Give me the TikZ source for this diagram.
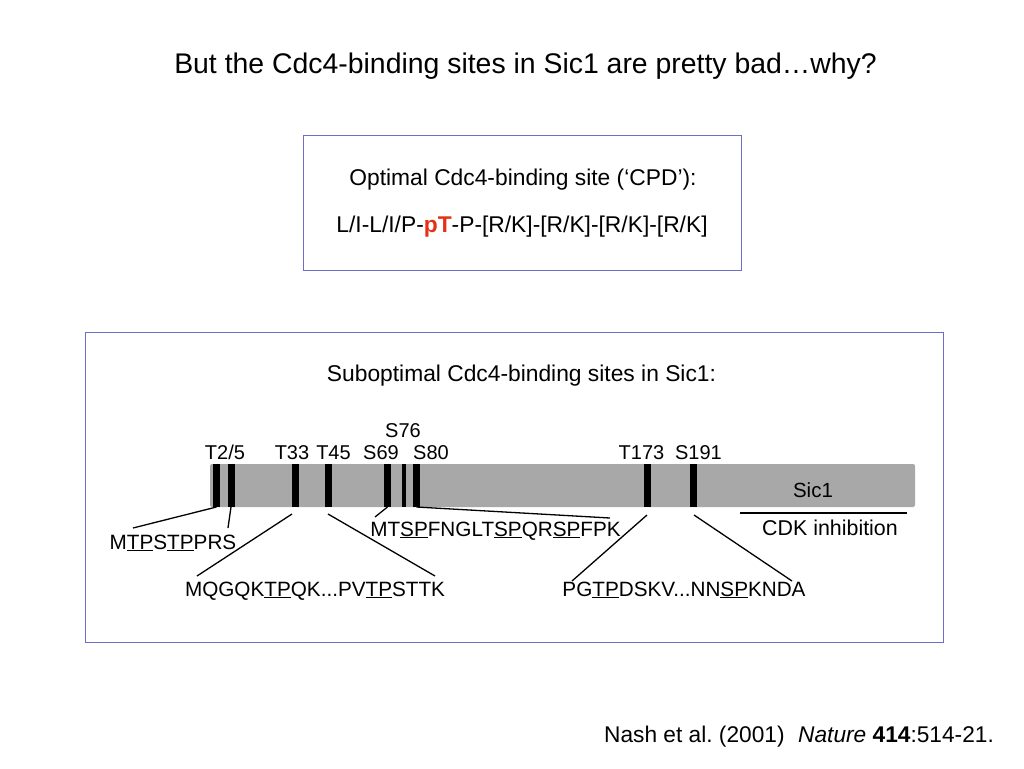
\documentclass[tikz,border=0pt]{standalone}
\usepackage{fontspec}
\setmainfont{Liberation Sans}
\definecolor{boxblue}{RGB}{110,110,200}
\definecolor{bargray}{RGB}{168,168,168}
\definecolor{pTred}{RGB}{230,50,20}
\newcommand{\usl}[1]{\underline{#1}}
\frenchspacing
\begin{document}
\begin{tikzpicture}[x=1pt,y=-1pt,
  every node/.style={inner sep=0pt, outer sep=0pt},
  frame/.style={draw=boxblue, line width=0.9pt, anchor=north west},
  stripe/.style={fill=black, minimum width=7pt, minimum height=43pt},
  site/.style={anchor=base, font=\fontsize{20}{23}\selectfont},
  seq/.style={anchor=base, font=\fontsize{20.7}{24}\selectfont},
  conn/.style={draw=black, line width=1.3pt},
  txt/.style={anchor=base, font=\fontsize{22.8}{26}\selectfont}]
\useasboundingbox (0,0) rectangle (1024,768);
% title
\node[anchor=base, font=\fontsize{28.4}{32}\selectfont] (title) at (525.5,74) {But the Cdc4-binding sites in Sic1 are pretty bad…why?};
% top box
\node[frame, minimum width=438pt, minimum height=135pt] (cpdbox) at (303,135) {};
\node[txt] (cpdt) at (523,185) {Optimal Cdc4-binding site (‘CPD’):};
\node[txt] (cpdm) at (522,232) {L/I-L/I/P-\textcolor{pTred}{\textbf{pT}}-P-[R/K]-[R/K]-[R/K]-[R/K]};
% bottom box
\node[frame, minimum width=858pt, minimum height=310pt] (sicbox) at (85,332) {};
\node[txt] (subt) at (521.5,381) {Suboptimal Cdc4-binding sites in Sic1:};
% bar
\node[fill=bargray, rounded corners=2pt, anchor=north west, minimum width=705pt, minimum height=43pt] (bar) at (210,464) {};
\node[site, font=\fontsize{20.5}{24}\selectfont] (sic1) at (813,497) {Sic1};
% stripes
\node[stripe] (t2) at (216.5,485.5) {};
\node[stripe] (t5) at (231,485.5) {};
\node[stripe] (t33) at (295.5,485.5) {};
\node[stripe] (t45) at (328,485.5) {};
\node[stripe] (s69) at (387.5,485.5) {};
\node[stripe, minimum width=4pt] (s76) at (404,485.5) {};
\node[stripe] (s80) at (416.5,485.5) {};
\node[stripe] (t173) at (647.5,485.5) {};
\node[stripe] (s191) at (693.5,485.5) {};
% site labels
\node[site] (lt25) at (225,459) {T2/5};
\node[site] (lt33) at (292,459) {T33};
\node[site] (lt45) at (333.5,459) {T45};
\node[site] (ls69) at (381,459) {S69};
\node[site] (ls76) at (403,437) {S76};
\node[site] (ls80) at (431,459) {S80};
\node[site] (lt173) at (641.5,459) {T173};
\node[site] (ls191) at (698.5,459) {S191};
% sequences
\node[seq] (q1) at (173,549) {M\usl{TP}S\usl{TP}PRS};
\node[seq] (q2) at (315,596) {MQGQK\usl{TP}QK...PV\usl{TP}STTK};
\node[seq] (q3) at (495.5,536) {MT\usl{SP}FNGLT\usl{SP}QR\usl{SP}FPK};
\node[seq] (q4) at (684,596) {PG\usl{TP}DSKV...NN\usl{SP}KNDA};
\node[seq, font=\fontsize{21.4}{25}\selectfont] (cdk) at (830,535) {CDK inhibition};
% connector end points
\coordinate (e1) at (133,528);
\coordinate (e2) at (228,528);
\coordinate (a33) at (292,514);
\coordinate (e33) at (197,576);
\coordinate (a45) at (328,514);
\coordinate (e45) at (435,576);
\coordinate (e69) at (375,517);
\coordinate (e80) at (610,518);
\coordinate (a173) at (647,515);
\coordinate (e173) at (572,581);
\coordinate (a191) at (694,515);
\coordinate (e191) at (792,581);
\coordinate (c1) at (740,513);
\coordinate (c2) at (907,513);
% connectors
\draw[conn] (t2.south) -- (e1);
\draw[conn] (t5.south) -- (e2);
\draw[conn] (a33) -- (e33);
\draw[conn] (a45) -- (e45);
\draw[conn] (s69.south) -- (e69);
\draw[conn] (s80.south) -- (e80);
\draw[conn] (a173) -- (e173);
\draw[conn] (a191) -- (e191);
\draw[conn] (c1) -- (c2);
% citation
\node[anchor=base, font=\fontsize{22.7}{26}\selectfont] (cite) at (799,742) {Nash et al. (2001)\hspace{0.6em}\textit{Nature} \textbf{414}:514-21.};
\end{tikzpicture}
\end{document}
